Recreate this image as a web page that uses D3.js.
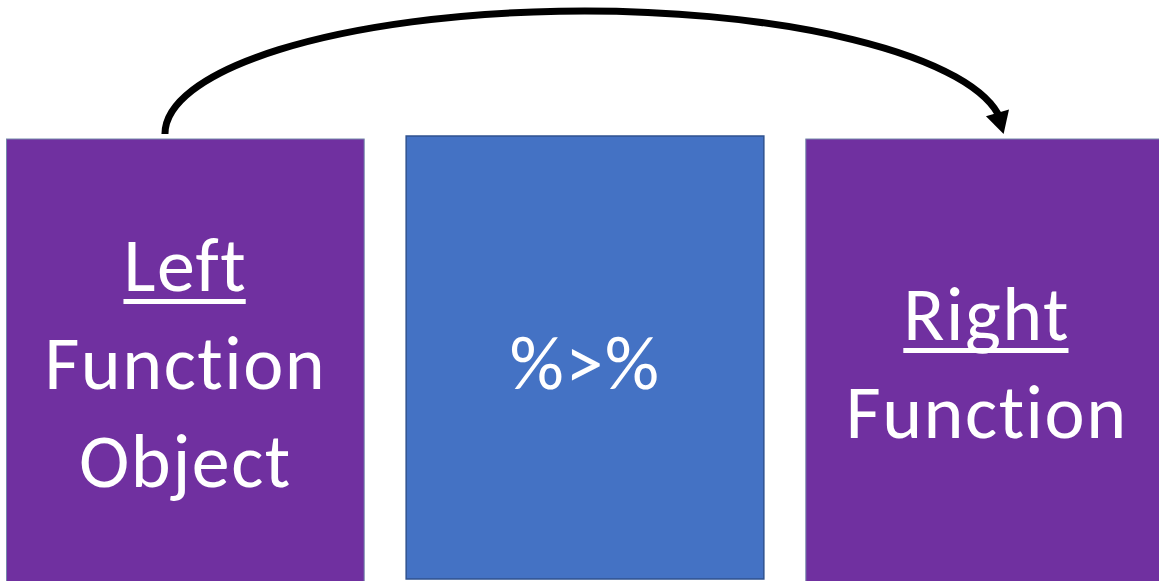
<!DOCTYPE html>
<meta charset="utf-8">
<style>
body { margin: 0; background: #fff; }
.label {
  fill: #fff;
  font-family: Calibri, Carlito, Lato, sans-serif;
  text-anchor: middle;
  font-variant-ligatures: none;
  letter-spacing: 1.5px;
}
</style>
<body>
<div id="diagram"></div>
<script src="https://d3js.org/d3.v7.min.js"></script>
<script>
// diagram content
var boxKeys = ["left", "pipe", "right"];
var boxLines = [
    ["Left", "Function", "Object"],
    ["%>%"],
    ["Right", "Function"]
];
var underlined = ["Left", "Right"];
var arrowFrom = "left", arrowTo = "right";

/* Set dimensions */
var width = 1159, height = 581;
var svg = d3.select("#diagram").append("svg")
    .attr("width", width)
    .attr("height", height);

// boxes sit on a band scale
var x = d3.scaleBand()
    .domain(boxKeys)
    .range([6.5, 1163.5])
    .paddingInner(0.105);
var bw = x.bandwidth();

var fills = {left: "#7030A0", pipe: "#4472C4", right: "#7030A0"};
var strokes = {left: "#7488aa", pipe: "#2F528F", right: "#7488aa"};
var tops = {left: 139, pipe: 136, right: 139};
var bottoms = {left: 590, pipe: 579, right: 590};

svg.selectAll("rect.box")
    .data(boxKeys)
    .enter().append("rect")
    .attr("class", "box")
    .attr("x", function(d) { return x(d); })
    .attr("y", function(d) { return tops[d]; })
    .attr("width", bw)
    .attr("height", function(d) { return bottoms[d] - tops[d]; })
    .style("fill", function(d) { return fills[d]; })
    .style("stroke", function(d) { return strokes[d]; })
    .style("stroke-width", function(d) { return d == "pipe" ? 1.5 : 1; });

// text in each box
var fontSize = 76, lineH = 98, centerY = 360;
boxKeys.forEach(function(k, i) {
    var lines = boxLines[i];
    var cx = x(k) + bw / 2 + (k == "right" ? 2 : 0);
    lines.forEach(function(t, j) {
        var by = centerY + 29 + (j - (lines.length - 1) / 2) * lineH;
        var txt = svg.append("text")
            .attr("class", "label")
            .attr("x", cx)
            .attr("y", by)
            .style("font-size", fontSize + "px")
            .text(t);
        if (underlined.indexOf(t) >= 0) {
            var w = txt.node().getComputedTextLength() - 1.5;
            svg.append("rect")
                .attr("x", cx - w / 2 - 0.75)
                .attr("y", by + 8)
                .attr("width", w)
                .attr("height", 5)
                .style("fill", "#fff");
        }
    });
});

// curved arrow: half ellipse from left box top to right box top
var x0 = x(arrowFrom) + bw * 0.443, x1 = x(arrowTo) + bw * 0.553, yBase = 134;
var ecx = (x0 + x1) / 2, rx = (x1 - x0) / 2, ry = 123;
var ell = function(t) { return [ecx + rx * Math.cos(t), yBase + ry * Math.sin(t)]; };
var tTip = 2 * Math.PI;
var tBase = tTip - 0.17;
var tEnd = tTip - 0.12;
var p0 = ell(Math.PI), pe = ell(tEnd);
var d = "M" + p0[0] + "," + p0[1] + " A" + rx + "," + ry + " 0 0 1 " + pe[0] + "," + pe[1];
svg.append("path")
    .attr("d", d)
    .style("fill", "none")
    .style("stroke", "#000")
    .style("stroke-width", 7);

var tip = ell(tTip), base = ell(tBase);
var dx = tip[0] - base[0], dy = tip[1] - base[1], len = Math.sqrt(dx * dx + dy * dy);
var ux = dx / len, uy = dy / len;
var bx = tip[0] - ux * 22, by2 = tip[1] - uy * 22;
var hw = 12;
svg.append("path")
    .attr("d", d3.line()([
        [tip[0], tip[1]],
        [bx - uy * hw, by2 + ux * hw],
        [bx + uy * hw, by2 - ux * hw]
    ]) + "Z")
    .style("fill", "#000");
</script>
</body>
